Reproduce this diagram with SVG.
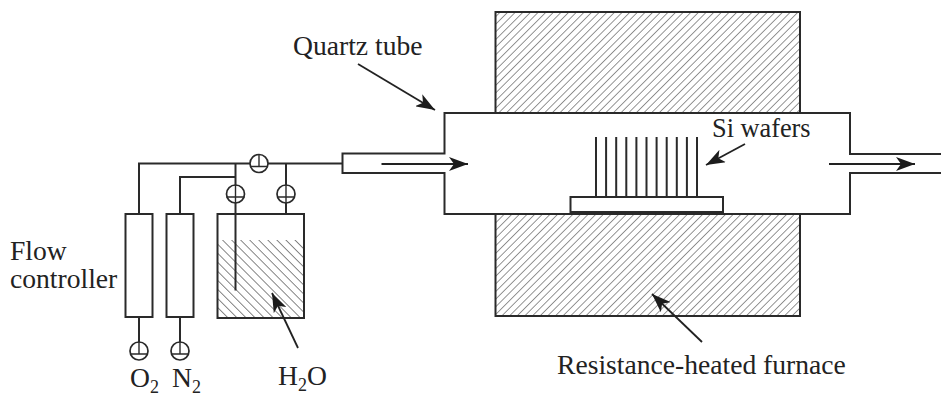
<svg xmlns="http://www.w3.org/2000/svg" width="941" height="396" viewBox="0 0 941 396">
<style>
.l{fill:none;stroke:#2a2a2a;stroke-width:2}
.w{fill:#fff;stroke:#2a2a2a;stroke-width:2}
.a{fill:none;stroke:#222;stroke-width:1.8}
.v{fill:#fff;stroke:#2a2a2a;stroke-width:1.7}
.t{stroke:#2a2a2a;stroke-width:1.4;fill:none}
text{font-family:"Liberation Serif","Times New Roman",serif;font-size:27.6px;fill:#222}
.s{font-size:18px}
</style>
<defs>
<pattern id="h1" width="5.4" height="5.4" patternUnits="userSpaceOnUse" patternTransform="rotate(45)"><rect x="0" y="0" width="0.9" height="5.4" fill="#8a8a8a"/></pattern>
<pattern id="h2" width="6.4" height="6.4" patternUnits="userSpaceOnUse" patternTransform="rotate(-45)"><rect x="0" y="0" width="0.9" height="6.4" fill="#7a7a7a"/></pattern>
<marker id="ah" markerUnits="userSpaceOnUse" markerWidth="20" markerHeight="14" refX="19" refY="7" orient="auto"><path d="M0 0L19 7L0 14L5 7Z" fill="#1c1c1c"/></marker>
<symbol id="valve" overflow="visible"><circle r="9" class="v"/><path d="M-9 3H9M0-9V3" class="t"/></symbol>
<symbol id="valve-through" overflow="visible"><circle r="9" class="v"/><path d="M-9 3H9M0-9V9" class="t"/></symbol>
</defs>
<g id="furnace-top"><rect x="495.500" y="12" width="304.500" height="101" fill="url(#h1)"/><rect x="495.500" y="12" width="304.500" height="101" class="l"/></g>
<g id="furnace-bottom"><rect x="495.500" y="214" width="304.500" height="102" fill="url(#h1)"/><rect x="495.500" y="214" width="304.500" height="102" class="l"/></g>
<g id="quartz-tube"><path d="M941 154H850V113H444.500V153.500H342.500V173H444.500V214H850V173H941" class="w"/></g>
<g id="wafers"><rect x="570.500" y="197" width="152.500" height="15" class="w"/><path d="M596 197V137M606.100 197V137M616.200 197V137M626.300 197V137M636.400 197V137M646.500 197V137M656.600 197V137M666.700 197V137M676.800 197V137M686.900 197V137M697 197V137" class="l"/></g>
<g id="flow-o2"><rect x="125.500" y="214" width="27" height="103" class="w"/></g>
<g id="flow-n2"><rect x="166.500" y="214" width="27" height="103" class="w"/></g>
<g id="beaker"><rect x="217.500" y="240" width="86.500" height="78" fill="url(#h2)"/><rect x="217.500" y="214" width="86.500" height="104" class="l"/></g>
<g id="connectors">
<path d="M139 214V163.500H342.500M180 214V177H235.500M235.500 163.500V290.500M286 163.500V214M139 317V343M180 317V343" class="l"/>
<path d="M381.500 164H468" class="a" marker-end="url(#ah)"/>
<path d="M829 164H915" class="a" marker-end="url(#ah)"/>
<path d="M358 64L435 110" class="a" marker-end="url(#ah)"/>
<path d="M745 144L706 165" class="a" marker-end="url(#ah)"/>
<path d="M298 348L272 293" class="a" marker-end="url(#ah)"/>
<path d="M702 342L652 294" class="a" marker-end="url(#ah)"/>
</g>
<g id="valves">
<use href="#valve" x="259" y="163.500"/><use href="#valve-through" x="235.500" y="194"/><use href="#valve-through" x="286" y="194"/><use href="#valve" x="139" y="351"/><use href="#valve" x="180" y="351"/>
</g>
<g id="labels">
<text x="293" y="55">Quartz tube</text>
<text x="712" y="136.500" style="font-size:26.300px">Si wafers</text>
<text x="10" y="260">Flow</text>
<text x="10" y="288">controller</text>
<text x="130" y="387">O<tspan class="s" dy="6">2</tspan></text>
<text x="172" y="387">N<tspan class="s" dy="6">2</tspan></text>
<text x="278" y="385">H<tspan class="s" dy="6">2</tspan><tspan dy="-6">O</tspan></text>
<text x="557" y="374">Resistance-heated furnace</text>
</g>
</svg>
